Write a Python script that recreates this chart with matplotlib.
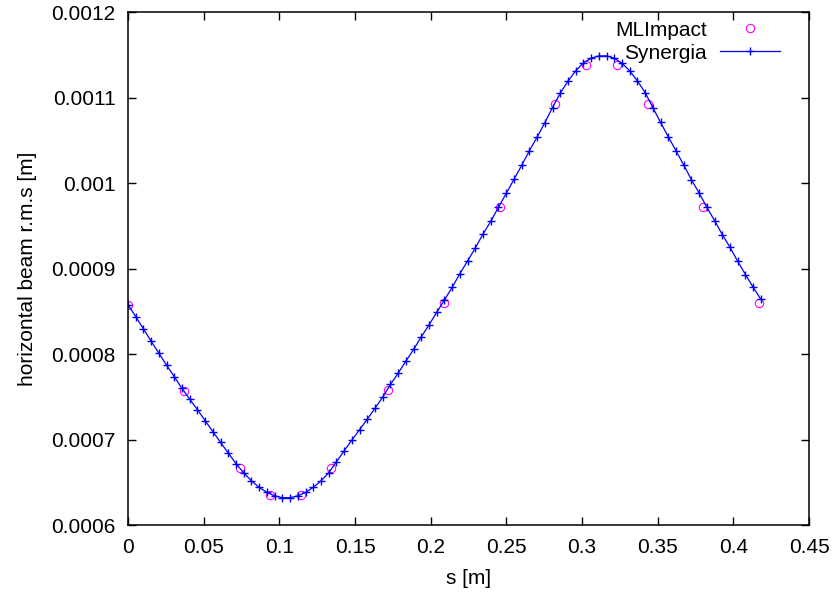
import numpy as np
import matplotlib
matplotlib.use("Agg")
import matplotlib.pyplot as plt
import matplotlib.ticker as ticker

plt.rcParams["font.family"] = ["Liberation Sans", "DejaVu Sans"]

# Synergia: position along the line [m] and horizontal rms [1e-7 m]
s_synergia = [
    0.0000, 0.0051, 0.0102, 0.0153, 0.0204, 0.0255, 0.0306, 0.0357, 0.0408, 0.0459,
    0.0510, 0.0561, 0.0612, 0.0663, 0.0714, 0.0765, 0.0816, 0.0867, 0.0918, 0.0969,
    0.1020, 0.1071, 0.1122, 0.1173, 0.1224, 0.1275, 0.1326, 0.1377, 0.1428, 0.1479,
    0.1530, 0.1581, 0.1632, 0.1683, 0.1734, 0.1785, 0.1836, 0.1887, 0.1938, 0.1989,
    0.2040, 0.2091, 0.2142, 0.2193, 0.2244, 0.2295, 0.2346, 0.2397, 0.2448, 0.2499,
    0.2550, 0.2601, 0.2652, 0.2703, 0.2754, 0.2805, 0.2856, 0.2907, 0.2958, 0.3009,
    0.3060, 0.3111, 0.3162, 0.3213, 0.3264, 0.3315, 0.3366, 0.3417, 0.3468, 0.3519,
    0.3570, 0.3621, 0.3672, 0.3723, 0.3774, 0.3825, 0.3876, 0.3927, 0.3978, 0.4029,
    0.4080, 0.4131, 0.4180,
]
rms_synergia = [
    8578, 8438, 8294, 8150, 8009, 7869, 7734, 7597, 7472, 7348,
    7220, 7091, 6966, 6841, 6717, 6610, 6516, 6440, 6382, 6341,
    6320, 6320, 6341, 6382, 6440, 6516, 6610, 6738, 6868, 6993,
    7115, 7238, 7367, 7495, 7644, 7776, 7916, 8053, 8201, 8341,
    8488, 8633, 8780, 8940, 9089, 9241, 9404, 9551, 9717, 9878,
    10042, 10206, 10377, 10537, 10704, 10883, 11051, 11191, 11312, 11405,
    11460, 11487, 11487, 11460, 11402, 11312, 11195, 11058, 10883, 10708,
    10541, 10377, 10211, 10038, 9883, 9715, 9560, 9396, 9248, 9084,
    8929, 8780, 8645,
]

# MLImpact: position [m] and horizontal rms [1e-7 m]
s_mlimpact = [
    0.0000, 0.0370, 0.0738, 0.0939, 0.1141, 0.1344, 0.1718, 0.2087,
    0.2455, 0.2823, 0.3027, 0.3230, 0.3433, 0.3801, 0.4170,
]
rms_mlimpact = [
    8578, 7565, 6666, 6347, 6355, 6662, 7582, 8598,
    9723, 10930, 11382, 11382, 10930, 9715, 8598,
]

x_ticks = [0, 0.05, 0.1, 0.15, 0.2, 0.25, 0.3, 0.35, 0.4, 0.45]
y_ticks = [0.0006, 0.0007, 0.0008, 0.0009, 0.001, 0.0011, 0.0012]

fig = plt.figure(figsize=(8.35, 5.95), dpi=100)
ax = fig.add_axes([0.1533, 0.1176, 0.8156, 0.8622])

ax.plot(
    s_mlimpact,
    np.array(rms_mlimpact) * 1e-7,
    "o",
    ls="none",
    ms=6,
    mfc="none",
    mec="#ff00ff",
    mew=0.8,
    label="MLImpact",
)
ax.plot(
    s_synergia,
    np.array(rms_synergia) * 1e-7,
    "+-",
    c="#0000ff",
    lw=0.9,
    ms=6,
    mew=1.0,
    label="Synergia",
)

ax.set_xlim(0, 0.45)
ax.set_ylim(0.0006, 0.0012)
ax.set_xticks(x_ticks)
ax.set_yticks(y_ticks)
fmt = ticker.FuncFormatter(lambda v, pos: f"{v:g}")
ax.xaxis.set_major_formatter(fmt)
ax.yaxis.set_major_formatter(fmt)
ax.tick_params(
    direction="in", length=6, width=1, top=True, right=True, labelsize=15, pad=9
)
for sp in ax.spines.values():
    sp.set_linewidth(1.1)

ax.set_xlabel("s [m]", fontsize=15, labelpad=9)
ax.set_ylabel("horizontal beam r.m.s [m]", fontsize=15, labelpad=10)

ax.legend(
    loc="upper right",
    bbox_to_anchor=(0.985, 1.02),
    frameon=False,
    markerfirst=False,
    numpoints=1,
    fontsize=15,
    handlelength=2.9,
    labelspacing=0.2,
    handletextpad=0.6,
)

fig.savefig("out.png", dpi=100)
